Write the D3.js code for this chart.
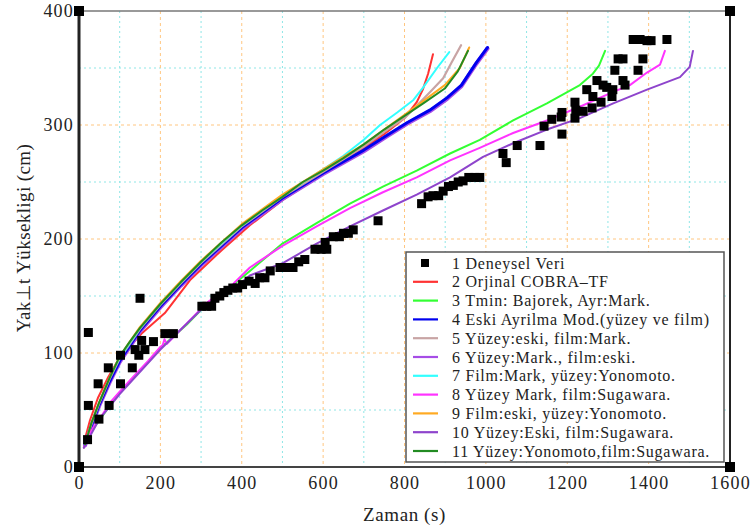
<!DOCTYPE html>
<html>
<head>
<meta charset="utf-8">
<script src="https://cdn.jsdelivr.net/npm/d3@7/dist/d3.min.js"></script>
<style>
  html, body { margin: 0; padding: 0; background: #fff; }
  svg { display: block; }
  text { font-family: "Liberation Serif", serif; fill: #222; }
</style>
</head>
<body>
<svg id="chart" width="751" height="532"></svg>
<script>
// Axis ticks
const xTicks = [0, 200, 400, 600, 800, 1000, 1200, 1400, 1600];
const yTicks = [0, 100, 200, 300, 400];
const xMinor = [100, 300, 500, 700, 900, 1100, 1300, 1500];
const yMinor = [50, 150, 250, 350];

// 1 Deneysel Veri: measured points [time (s), height (cm)]
const deneysel = [
  [21, 24], [23, 54], [23, 118], [47, 73], [49, 42], [72, 87], [74, 54],
  [102, 98], [102, 73], [131, 87], [138, 103], [147, 98], [150, 148], [154, 111],
  [162, 103], [183, 110], [211, 117], [232, 117],
  [302, 141], [314, 141], [326, 141], [334, 148], [346, 150], [356, 153],
  [366, 155], [378, 157], [390, 157], [402, 160], [418, 163], [433, 161],
  [444, 166], [457, 166], [470, 172], [494, 175], [510, 175], [526, 175],
  [540, 180], [555, 182], [580, 191], [595, 191], [609, 191], [605, 197],
  [625, 202], [640, 202], [650, 205], [662, 205], [674, 208], [735, 216],
  [842, 231], [858, 237], [870, 238], [884, 238], [895, 242], [908, 246],
  [920, 247], [932, 250], [944, 251], [958, 254], [973, 254], [985, 254],
  [1042, 275], [1050, 267], [1077, 282], [1133, 282], [1143, 299], [1162, 305],
  [1187, 292], [1185, 307], [1187, 311], [1219, 306], [1221, 313], [1219, 320],
  [1239, 312], [1248, 331], [1261, 315], [1263, 325], [1273, 339], [1283, 320],
  [1288, 335], [1297, 333], [1310, 325], [1312, 331], [1317, 348], [1325, 358],
  [1337, 358], [1337, 339], [1342, 335], [1374, 348], [1386, 358], [1362, 375],
  [1379, 375], [1396, 374], [1406, 374], [1445, 375]
];

// Model runs: [time (s), height (cm)]
const orjinal = [
  [15, 25], [27, 41], [47, 61], [72, 79], [100, 96], [154, 117], [211, 135],
  [273, 164], [350, 190], [420, 212], [500, 234], [600, 257], [700, 280],
  [750, 292], [800, 306], [830, 320], [845, 331], [858, 345], [870, 362]
];
const tminBajorek = [
  [12, 17], [30, 31], [52, 42], [80, 56], [100, 65], [133, 78], [170, 92],
  [199, 104], [265, 125], [314, 143], [380, 160], [420, 172], [500, 196],
  [584, 214], [666, 231], [747, 246], [830, 260], [912, 275], [985, 287],
  [1067, 304], [1150, 319], [1231, 335], [1263, 345], [1278, 352], [1293, 365]
];
const eskiAyrilma = [
  [15, 20], [30, 36], [50, 55], [75, 75], [100, 93], [150, 120], [200, 141],
  [250, 160], [300, 178], [400, 210], [500, 236], [600, 258], [700, 278],
  [757, 291], [806, 302], [862, 313], [905, 324], [940, 335], [977, 355],
  [1004, 368]
];
const yuzeyEskiFilmMark = [
  [15, 20], [30, 37], [50, 56], [75, 77], [100, 95], [150, 121], [200, 142],
  [250, 161], [300, 179], [400, 211], [500, 237], [600, 259], [700, 281],
  [750, 294], [800, 306], [863, 329], [895, 341], [916, 355], [939, 370]
];
const yuzeyMarkFilmEski = [
  [15, 19], [30, 35], [50, 54], [75, 74], [100, 92], [150, 119], [200, 140],
  [250, 159], [300, 177], [400, 209], [500, 235], [600, 257], [700, 277],
  [757, 290], [806, 301], [862, 312], [905, 323], [940, 334], [977, 354],
  [1004, 367]
];
const filmMarkYonomoto = [
  [15, 20], [30, 38], [50, 57], [75, 78], [100, 96], [150, 122], [200, 143],
  [250, 162], [300, 180], [400, 212], [500, 238], [600, 261], [650, 273],
  [700, 287], [740, 300], [782, 311], [822, 322], [846, 333], [880, 350],
  [910, 364]
];
const yuzeyMarkSugawara = [
  [12, 17], [30, 32], [52, 43], [80, 58], [100, 66], [133, 79], [170, 93],
  [199, 105], [206, 107], [210, 112], [216, 108], [265, 126], [314, 144],
  [380, 161], [420, 175], [500, 194], [584, 211], [666, 227], [747, 241],
  [830, 254], [912, 269], [985, 280], [1067, 293], [1150, 304], [1231, 316],
  [1313, 329], [1354, 335], [1396, 346], [1428, 353], [1440, 365]
];
const filmEskiYonomoto = [
  [15, 20], [30, 38], [50, 57], [75, 78], [100, 97], [150, 123], [200, 144],
  [250, 163], [300, 181], [400, 213], [500, 239], [600, 261], [700, 283],
  [750, 296], [800, 309], [850, 322], [899, 335], [936, 350], [959, 368]
];
const yuzeyEskiSugawara = [
  [12, 17], [50, 42], [100, 64], [200, 103], [300, 138], [350, 151],
  [400, 162], [420, 168], [502, 179], [584, 196], [666, 211], [747, 225],
  [830, 239], [912, 254], [993, 272], [1067, 284], [1150, 296], [1231, 306],
  [1313, 319], [1396, 331], [1477, 342], [1501, 351], [1509, 365]
];
const yuzeyYonomotoSugawara = [
  [15, 20], [30, 38], [50, 57], [75, 78], [100, 97], [125, 110], [150, 122],
  [200, 143], [250, 162], [300, 180], [350, 197], [400, 212], [450, 225],
  [500, 237], [550, 250], [600, 260], [650, 271], [700, 283], [750, 296],
  [800, 308], [846, 319], [899, 332], [931, 347], [956, 365]
];

const seriesNames = [
  "1 Deneysel Veri",
  "2 Orjinal COBRA\u2013TF",
  "3 Tmin: Bajorek, Ayr:Mark.",
  "4 Eski Ayrilma Mod.(yüzey ve film)",
  "5 Yüzey:eski, film:Mark.",
  "6 Yüzey:Mark., film:eski.",
  "7 Film:Mark, yüzey:Yonomoto.",
  "8 Yüzey Mark, film:Sugawara.",
  "9 Film:eski, yüzey:Yonomoto.",
  "10 Yüzey:Eski, film:Sugawara.",
  "11 Yüzey:Yonomoto,film:Sugawara."
];
const seriesColors = [
  "#000000", "#ff3333", "#33ff33", "#0000ee", "#c8a4a4", "#a64de6",
  "#33ffff", "#ff33ff", "#ffaa22", "#8e44cc", "#228b22"
];
const seriesData = [
  deneysel, orjinal, tminBajorek, eskiAyrilma, yuzeyEskiFilmMark,
  yuzeyMarkFilmEski, filmMarkYonomoto, yuzeyMarkSugawara, filmEskiYonomoto,
  yuzeyEskiSugawara, yuzeyYonomotoSugawara
];
const seriesWidths = [0, 2, 2, 3, 2.2, 4, 2, 2, 2, 2, 2];
// drawing order of the model lines (indices into the arrays above)
const drawOrder = [1, 2, 5, 3, 4, 6, 7, 8, 9, 10];

const svg = d3.select("#chart");
const plotLeft = 79, plotRight = 730, plotTop = 11, plotBottom = 467;
const serif = "Liberation Serif";

const x = d3.scaleLinear().domain([0, 1600]).range([plotLeft, plotRight]);
const y = d3.scaleLinear().domain([0, 400]).range([plotBottom, plotTop]);

// grid: minor dotted cyan, major dashed orange
const grid = svg.append("g");
grid.selectAll(".xm").data(xMinor).join("line")
  .attr("x1", d => x(d)).attr("x2", d => x(d)).attr("y1", plotTop).attr("y2", plotBottom)
  .attr("stroke", "#8fe6e6").attr("stroke-width", 1).attr("stroke-dasharray", "2,3");
grid.selectAll(".ym").data(yMinor).join("line")
  .attr("y1", d => y(d)).attr("y2", d => y(d)).attr("x1", plotLeft).attr("x2", plotRight)
  .attr("stroke", "#8fe6e6").attr("stroke-width", 1).attr("stroke-dasharray", "2,3");
grid.selectAll(".xM").data(xTicks.slice(1, -1)).join("line")
  .attr("x1", d => x(d)).attr("x2", d => x(d)).attr("y1", plotTop).attr("y2", plotBottom)
  .attr("stroke", "#ffc680").attr("stroke-width", 1).attr("stroke-dasharray", "3,3");
grid.selectAll(".yM").data(yTicks.slice(1, -1)).join("line")
  .attr("y1", d => y(d)).attr("y2", d => y(d)).attr("x1", plotLeft).attr("x2", plotRight)
  .attr("stroke", "#ffc680").attr("stroke-width", 1).attr("stroke-dasharray", "3,3");

// model lines
const line = d3.line().x(d => x(d[0])).y(d => y(d[1]));
const lines = svg.append("g").attr("fill", "none")
  .attr("stroke-linejoin", "round").attr("stroke-linecap", "round");
drawOrder.forEach(i => {
  lines.append("path").datum(seriesData[i])
    .attr("d", line)
    .attr("stroke", seriesColors[i])
    .attr("stroke-width", seriesWidths[i]);
});

// measured points
svg.append("g").selectAll("rect").data(deneysel).join("rect")
  .attr("x", d => x(d[0]) - 4.5).attr("y", d => y(d[1]) - 4.5)
  .attr("width", 9).attr("height", 9).attr("fill", "#000");

// frame
svg.append("line").attr("x1", plotLeft).attr("x2", plotRight).attr("y1", plotTop).attr("y2", plotTop)
  .attr("stroke", "#777").attr("stroke-width", 1.5);
svg.append("line").attr("x1", plotRight).attr("x2", plotRight).attr("y1", plotTop).attr("y2", plotBottom)
  .attr("stroke", "#222").attr("stroke-width", 2);
svg.append("line").attr("x1", plotLeft).attr("x2", plotRight).attr("y1", plotBottom).attr("y2", plotBottom)
  .attr("stroke", "#444").attr("stroke-width", 2);
svg.append("line").attr("x1", plotLeft).attr("x2", plotLeft).attr("y1", plotTop).attr("y2", plotBottom)
  .attr("stroke", "#222").attr("stroke-width", 3);

// corner markers
const corners = [[0, 0], [0, 400], [1600, 0], [1600, 400]];
svg.append("g").selectAll("rect").data(corners).join("rect")
  .attr("x", d => x(d[0]) - 5).attr("y", d => y(d[1]) - 5)
  .attr("width", 10).attr("height", 10).attr("fill", "#000");

// axes (labels only; grid carries the tick positions)
const xAxis = d3.axisBottom(x).tickValues(xTicks).tickFormat(d3.format("d"))
  .tickSize(0).tickPadding(9);
const gx = svg.append("g").attr("transform", `translate(0,${plotBottom})`).call(xAxis);
gx.select(".domain").remove();
gx.selectAll("text").attr("font-size", 18).attr("font-family", serif)
  .attr("letter-spacing", 1.2).attr("fill", "#222");

const yAxis = d3.axisLeft(y).tickValues(yTicks).tickFormat(d3.format("d"))
  .tickSize(0).tickPadding(5);
const gy = svg.append("g").attr("transform", `translate(${plotLeft},0)`).call(yAxis);
gy.select(".domain").remove();
gy.selectAll("text").attr("font-size", 18).attr("font-family", serif)
  .attr("letter-spacing", 1.2).attr("fill", "#222");

// axis titles
svg.append("text").attr("x", (plotLeft + plotRight) / 2).attr("y", 521)
  .attr("text-anchor", "middle").attr("font-size", 19).attr("letter-spacing", 0.6)
  .text("Zaman (s)");
svg.append("text").attr("transform", "translate(30,238) rotate(-90)")
  .attr("text-anchor", "middle").attr("font-size", 19).attr("letter-spacing", 0.4)
  .text("Yak\u22a5t Yüksekligi (cm)");

// legend
const lg = svg.append("g");
lg.append("rect").attr("x", 406).attr("y", 252).attr("width", 318).attr("height", 210)
  .attr("fill", "#fff").attr("stroke", "#555").attr("stroke-width", 1.5);
seriesNames.forEach((name, i) => {
  const cy = 263 + i * 18.8;
  if (i === 0) {
    lg.append("rect").attr("x", 421).attr("y", cy - 4).attr("width", 8).attr("height", 8).attr("fill", "#000");
  } else {
    lg.append("line").attr("x1", 413).attr("x2", 438).attr("y1", cy).attr("y2", cy)
      .attr("stroke", seriesColors[i]).attr("stroke-width", 2.2);
  }
  lg.append("text").attr("x", 452).attr("y", cy).attr("dy", "0.35em")
    .attr("font-size", 16).attr("letter-spacing", 0.75).attr("fill", "#333").text(name);
});
</script>
</body>
</html>
